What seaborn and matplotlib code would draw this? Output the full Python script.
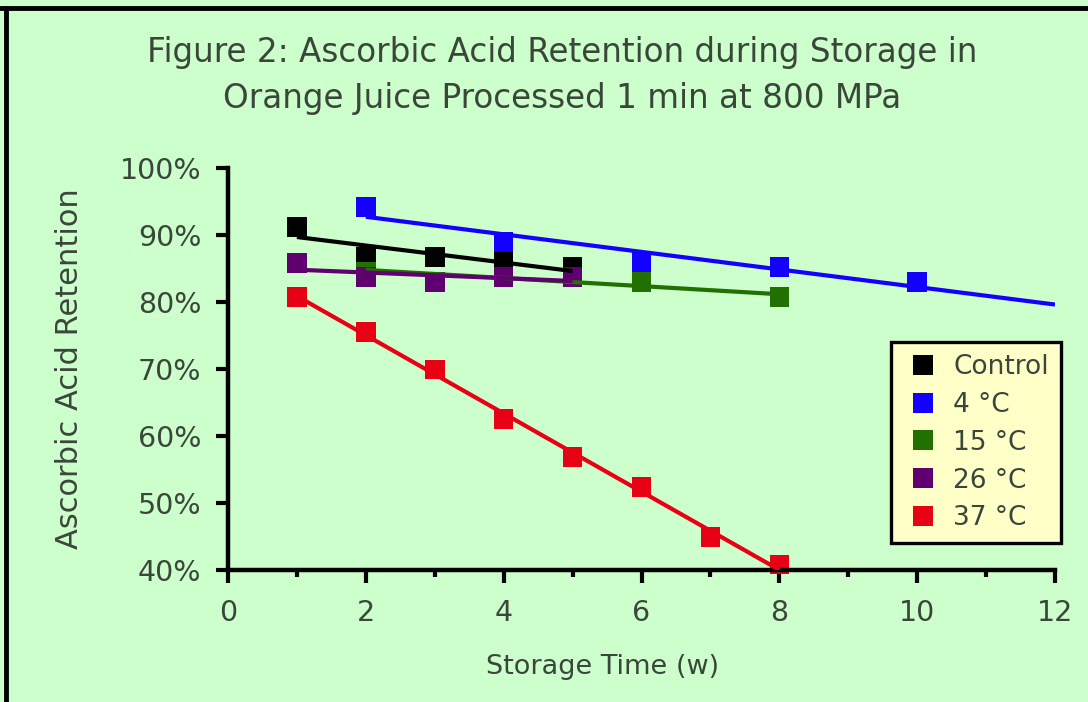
import numpy as np
import pandas as pd
import matplotlib
matplotlib.use("Agg")
import matplotlib.pyplot as plt
from matplotlib.lines import Line2D
from matplotlib.ticker import PercentFormatter, MultipleLocator
import seaborn as sns

# ------------------------------------------------------------
# Data
# ------------------------------------------------------------
series_names = ['Control', '4 °C', '15 °C', '26 °C', '37 °C']

control_weeks = [1, 2, 3, 4, 5]
control_ret = [91.2, 86.7, 86.7, 86.0, 85.2]

c4_weeks = [2, 4, 6, 8, 10]
c4_ret = [94.2, 89.0, 86.0, 85.2, 83.0]

c15_weeks = [2, 4, 6, 8]
c15_ret = [84.5, 83.7, 83.0, 80.7]

c26_weeks = [1, 2, 3, 4, 5]
c26_ret = [85.8, 83.7, 83.0, 83.7, 83.7]

c37_weeks = [1, 2, 3, 4, 5, 6, 7, 8]
c37_ret = [80.7, 75.5, 69.9, 62.5, 56.9, 52.4, 44.9, 40.8]

# trendline range (the 4 °C line is extended two weeks forward)
trend_end = {'Control': 5, '4 °C': 12, '15 °C': 8, '26 °C': 5, '37 °C': 8}

colors = {
    'Control': '#000000',
    '4 °C': '#1400FF',
    '15 °C': '#227000',
    '26 °C': '#600070',
    '37 °C': '#E80014',
}

frames = []
for name, w, r in zip(series_names,
                      [control_weeks, c4_weeks, c15_weeks, c26_weeks, c37_weeks],
                      [control_ret, c4_ret, c15_ret, c26_ret, c37_ret]):
    frames.append(pd.DataFrame({'week': w, 'retention': r, 'series': name}))
df = pd.concat(frames, ignore_index=True)

# ------------------------------------------------------------
# Plot
# ------------------------------------------------------------
sns.set_style("ticks")
plt.rcParams['font.family'] = ['DejaVu Sans']
bg = '#CCFFCC'
text_col = '#3a463a'

fig = plt.figure(figsize=(10.88, 7.02), dpi=100, facecolor=bg)
ax = fig.add_axes([228 / 1088, 1 - 570 / 702, (1055 - 228) / 1088, (570 - 168) / 702])
ax.set_facecolor(bg)

sns.scatterplot(data=df, x='week', y='retention', hue='series', palette=colors,
                hue_order=series_names, marker='s', s=200, linewidth=0,
                legend=False, ax=ax, zorder=2, clip_on=False)

# linear trendlines, drawn on top like the spreadsheet does
for name in series_names:
    sub = df[df['series'] == name]
    slope, icpt = np.polyfit(sub['week'], sub['retention'], 1)
    xs = np.array([sub['week'].min(), trend_end[name]])
    ax.plot(xs, slope * xs + icpt, color=colors[name], lw=3, zorder=3,
            solid_capstyle='butt')

ax.set_xlim(0, 12)
ax.set_ylim(40, 100)
ax.xaxis.set_major_locator(MultipleLocator(2))
ax.xaxis.set_minor_locator(MultipleLocator(1))
ax.yaxis.set_major_locator(MultipleLocator(10))
ax.yaxis.set_major_formatter(PercentFormatter(100, decimals=0))

sns.despine(ax=ax)
for sp in ['left', 'bottom']:
    ax.spines[sp].set_linewidth(3.2)
    ax.spines[sp].set_color('black')
ax.tick_params(axis='both', which='major', length=9, width=3, color='black',
               labelsize=20.5, labelcolor=text_col)
ax.tick_params(axis='y', pad=10)
ax.tick_params(axis='x', pad=12)
ax.tick_params(axis='x', which='minor', length=5, width=3, color='black')

ax.set_xlabel('Storage Time (w)', fontsize=19.5, color=text_col)
ax.xaxis.set_label_coords(0.4535, -0.21)
ax.set_ylabel('Ascorbic Acid Retention', fontsize=22, color=text_col, labelpad=26)

fig.text(0.517, 0.893,
         'Figure 2: Ascorbic Acid Retention during Storage in\nOrange Juice Processed 1 min at 800 MPa',
         ha='center', va='center', fontsize=23.5, color=text_col, linespacing=1.5)

handles = [Line2D([], [], marker='s', linestyle='none', markersize=14,
                  markerfacecolor=colors[n], markeredgewidth=0) for n in series_names]
leg = ax.legend(handles, series_names, loc='upper left',
                bbox_to_anchor=(891 / 1088, 1 - 342 / 702), bbox_transform=fig.transFigure,
                fontsize=19, frameon=True, fancybox=False, framealpha=1,
                facecolor='#FFFFC8', edgecolor='black', borderpad=0.45,
                labelspacing=0.45, handlelength=1.5, handletextpad=0.4, borderaxespad=0)
leg.get_frame().set_linewidth(2.4)
for t in leg.get_texts():
    t.set_color(text_col)

# outer frame lines (top and left) of the original graphic
fig.add_artist(Line2D([0, 1], [1 - 8 / 702, 1 - 8 / 702], color='black', lw=3.5,
                      transform=fig.transFigure))
fig.add_artist(Line2D([6 / 1088, 6 / 1088], [0, 1 - 8 / 702], color='black', lw=3.5,
                      transform=fig.transFigure))

plt.savefig('out.png', dpi=100, facecolor=bg)
plt.close()
